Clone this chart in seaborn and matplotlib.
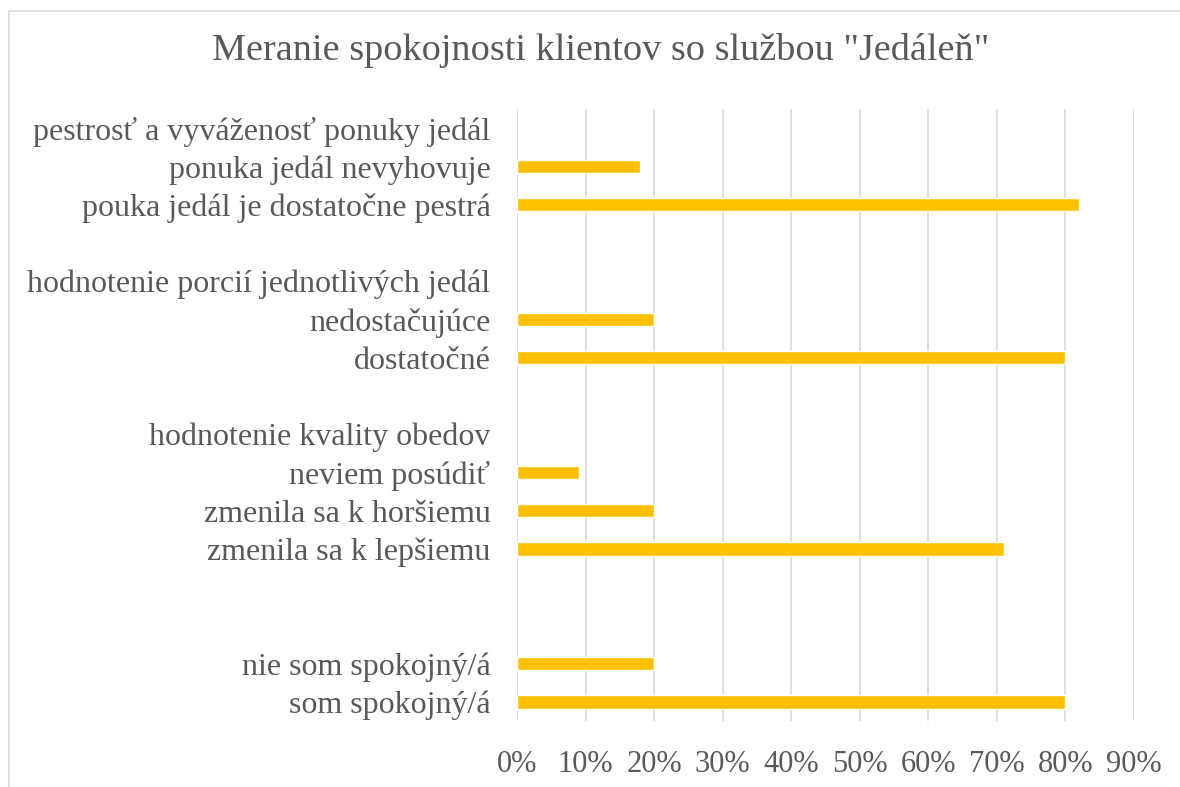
import numpy as np
import pandas as pd
import seaborn as sns
import matplotlib.pyplot as plt
from matplotlib.patches import Rectangle
from matplotlib.ticker import PercentFormatter

# categories top to bottom (blank rows are spacer slots, headers have no bar)
labels = [
    "pestrosť a vyváženosť ponuky jedál",
    "ponuka jedál nevyhovuje",
    "pouka jedál je dostatočne pestrá",
    " ",
    "hodnotenie porcií jednotlivých jedál",
    "nedostačujúce",
    "dostatočné",
    "  ",
    "hodnotenie kvality obedov",
    "neviem posúdiť",
    "zmenila sa k horšiemu",
    "zmenila sa k lepšiemu",
    "   ",
    "    ",
    "nie som spokojný/á",
    "som spokojný/á",
]
values = [np.nan, 0.18, 0.82, np.nan,
          np.nan, 0.20, 0.80, np.nan,
          np.nan, 0.09, 0.20, 0.71, np.nan,
          np.nan, 0.20, 0.80]
x_ticks = [0, 0.1, 0.2, 0.3, 0.4, 0.5, 0.6, 0.7, 0.8, 0.9]

title = 'Meranie spokojnosti klientov so službou "Jedáleň"'

df = pd.DataFrame({"label": labels, "value": values}).dropna()

sns.set_style("white")
plt.rcParams["font.family"] = ["Liberation Serif", "DejaVu Serif"]
text_col = "#595959"
grid_col = "#D9D9D9"

fig = plt.figure(figsize=(11.8, 7.87), dpi=100)
ax = fig.add_axes([517 / 1180, 1 - 721 / 787, (1134 - 517) / 1180, (721 - 109) / 787])

sns.barplot(data=df, x="value", y="label", order=labels, color="#FFC000",
            width=0.35, saturation=1, ax=ax, zorder=3)

ax.set_xlim(0, 0.9)
ax.set_xticks(x_ticks)
ax.xaxis.set_major_formatter(PercentFormatter(1.0, decimals=0))
ax.grid(axis="x", color=grid_col, linewidth=1.2, zorder=0)
ax.set_axisbelow(True)
for s in ax.spines.values():
    s.set_visible(False)
ax.set_xlabel("")
ax.set_ylabel("")
ax.tick_params(axis="y", length=0, pad=19, labelsize=23, labelcolor=text_col)
ax.tick_params(axis="x", length=0, pad=21, labelsize=22, labelcolor=text_col)

fig.text(601 / 1180, 1 - 50 / 787, title, ha="center", va="center",
         fontsize=27.5, color=text_col)

# chart border (runs off right/bottom edge like the source)
fig.patches.append(Rectangle((8.5 / 1180, -0.1), 1.2, 0.1 + 1 - 11.5 / 787,
                             transform=fig.transFigure, fill=False,
                             edgecolor=grid_col, linewidth=1.2))

fig.savefig("out.png", dpi=100)
